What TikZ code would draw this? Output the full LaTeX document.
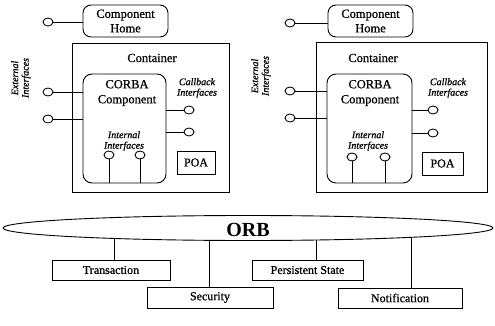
\documentclass[tikz,border=0pt]{standalone}
\usepackage{fontspec}
\setmainfont{Liberation Serif}[
  UprightFeatures={FakeBold=0.8},
  ItalicFeatures={FakeBold=0.8}]
\usetikzlibrary{shapes.geometric,backgrounds}

\begin{document}
\begin{tikzpicture}[x=1pt,y=-1pt,line width=0.9pt,
  port/.style={draw, fill=white, ellipse, minimum width=10pt, minimum height=8pt, inner sep=0pt},
  homebox/.style={draw, rounded corners=8pt, minimum width=85pt, minimum height=32pt,
    align=center, inner sep=0pt, font=\fontsize{12.5}{14.5}\selectfont},
  contbox/.style={draw, inner sep=0pt},
  corbabox/.style={draw, rounded corners=9pt, inner sep=0pt},
  lbl/.style={inner sep=0pt, align=center, font=\fontsize{12.5}{15}\selectfont},
  itl/.style={inner sep=0pt, align=center, font=\itshape\fontsize{10}{10.5}\selectfont},
  poabox/.style={draw, inner sep=0pt, minimum height=23pt, font=\fontsize{12}{12}\selectfont},
  svcbox/.style={draw, inner sep=0pt, minimum height=20pt, font=\fontsize{12}{12}\selectfont}]

\useasboundingbox (0,0) rectangle (495,326);

% ---------- left component server ----------
\node[homebox] (homeL) at (125.5,21) {Component\\Home};
\node[port] (hpL) at (48,22) {};
\draw (hpL.east) -- (hpL.east -| homeL.west);

\node[contbox, minimum width=157pt, minimum height=149pt] (contL) at (150.5,117.5) {};
\node[lbl] (contLtxt) at (152,58) {Container};
\node[corbabox, minimum width=83pt, minimum height=109pt] (corbaL) at (124.5,128.5) {};
\node[lbl] (corbaLtxt) at (127,93) {CORBA\\Component};

\node[itl, rotate=90] (extLtxt) at (21,78) {External\\Interfaces};
\node[port] (exL1) at (48,92) {};
\node[port] (exL2) at (48,119) {};
\draw (exL1.east) -- (exL1.east -| corbaL.west);
\draw (exL2.east) -- (exL2.east -| corbaL.west);

\node[itl] (cbLtxt) at (197,88) {Callback\\Interfaces};
\node[port] (cbL1) at (189,110) {};
\node[port] (cbL2) at (189,132) {};
\draw (cbL1.west) -- (cbL1.west -| corbaL.east);
\draw (cbL2.west) -- (cbL2.west -| corbaL.east);

\node[itl] (inLtxt) at (124,141) {Internal\\Interfaces};
\node[port] (inL1) at (109,155) {};
\node[port] (inL2) at (140,155) {};
\draw (inL1.south) -- (inL1.south |- corbaL.south);
\draw (inL2.south) -- (inL2.south |- corbaL.south);

\node[poabox, minimum width=38pt] (poaL) at (196,162.5) {POA};

% ---------- right component server ----------
\node[homebox] (homeR) at (370.5,21) {Component\\Home};
\node[port] (hpR) at (290,23) {};
\draw (hpR.east) -- (hpR.east -| homeR.west);

\node[contbox, minimum width=171pt, minimum height=150pt] (contR) at (401.5,117) {};
\node[lbl] (contRtxt) at (373,58) {Container};
\node[corbabox, minimum width=85pt, minimum height=109pt] (corbaR) at (369.5,128.5) {};
\node[lbl] (corbaRtxt) at (370,93) {CORBA\\Component};

\node[itl, rotate=90] (extRtxt) at (261,76) {External\\Interfaces};
\node[port] (exR1) at (290,91) {};
\node[port] (exR2) at (290,118) {};
\draw (exR1.east) -- (exR1.east -| corbaR.west);
\draw (exR2.east) -- (exR2.east -| corbaR.west);

\node[itl] (cbRtxt) at (448,88) {Callback\\Interfaces};
\node[port] (cbR1) at (433,110) {};
\node[port] (cbR2) at (433,133) {};
\draw (cbR1.west) -- (cbR1.west -| corbaR.east);
\draw (cbR2.west) -- (cbR2.west -| corbaR.east);

\node[itl] (inRtxt) at (368,141) {Internal\\Interfaces};
\node[port] (inR1) at (352,157) {};
\node[port] (inR2) at (385,157) {};
\draw (inR1.south) -- (inR1.south |- corbaR.south);
\draw (inR2.south) -- (inR2.south |- corbaR.south);

\node[poabox, minimum width=41pt] (poaR) at (442.5,163.5) {POA};

% ---------- ORB and services ----------
\node[draw, fill=white, ellipse, minimum width=490pt, minimum height=25pt, inner sep=0pt] (orb) at (248,228) {};
\node[font=\bfseries\fontsize{20}{20}\selectfont, inner sep=0pt] (orbtxt) at (248,229.5) {ORB};

\node[svcbox, minimum width=118pt] (trans) at (111,270) {Transaction};
\node[svcbox, minimum width=126pt, minimum height=21pt] (secur) at (210,297.5) {Security};
\node[svcbox, minimum width=111pt] (persist) at (307.5,270) {Persistent State};
\node[svcbox, minimum width=124pt] (notif) at (400,298) {Notification};

\coordinate (xT) at (114,0);
\coordinate (xS) at (209,0);
\coordinate (xP) at (316,0);
\coordinate (xN) at (411,0);

\begin{scope}[on background layer]
  \fill[white] (0,0) rectangle (495,326);
  \draw (xT |- trans.north) -- (xT |- orb.center);
  \draw (xS |- secur.north) -- (xS |- orb.center);
  \draw (xP |- persist.north) -- (xP |- orb.center);
  \draw (xN |- notif.north) -- (xN |- orb.center);
\end{scope}
\end{tikzpicture}
\end{document}
